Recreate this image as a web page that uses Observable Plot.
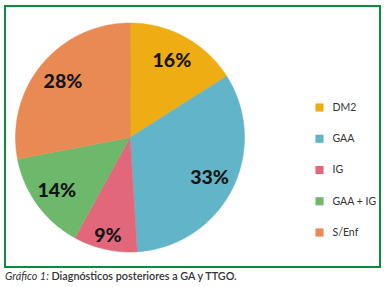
<!DOCTYPE html>
<html>
<head>
<meta charset="utf-8">
<script src="https://cdn.jsdelivr.net/npm/d3@7"></script>
<script src="https://cdn.jsdelivr.net/npm/@observablehq/plot@0.6"></script>
<style>
  html, body { margin: 0; padding: 0; background: #fff; }
  body { width: 389px; height: 287px; position: relative; overflow: hidden; }
  #frame { position: absolute; left: 4px; top: 5px; width: 373px; height: 259px; border: 2px solid #0f8a3c; }
  #frame svg { display: block; }
  #caption { position: absolute; left: 5px; top: 269px; font-family: Lato, "Open Sans", sans-serif; font-size: 10.8px; color: #333; white-space: nowrap; font-weight: 600; }
  #caption i { font-weight: 400; }
</style>
</head>
<body>
<div id="frame"></div>
<div id="caption"><i>Gráfico 1:</i> Diagnósticos posteriores a GA y TTGO.</div>
<script>
// Data
const categories = ["DM2", "GAA", "IG", "GAA + IG", "S/Enf"];
const percents = [16, 33, 9, 14, 28];
const colors = ["#efad14", "#62b4c8", "#e2677a", "#6db86b", "#e98a55"];

// Layout
const W = 373, H = 259;
const cx = 123.5, cy = 130, R = 114.5;
const labelR = [0.76, 0.78, 0.88, 0.79, 0.76];
const legendX = 313, legendY0 = 100, legendStep = 31.25;

const pie = d3.pie().sort(null).value(d => d.value)(
  categories.map((c, i) => ({name: c, value: percents[i]}))
);

const polys = [];
pie.forEach(s => {
  polys.push({name: s.data.name, x: cx, y: cy});
  const n = Math.max(2, Math.ceil((s.endAngle - s.startAngle) / (Math.PI / 180)));
  for (let k = 0; k <= n; k++) {
    const a = s.startAngle + (s.endAngle - s.startAngle) * k / n;
    polys.push({name: s.data.name, x: cx + R * Math.sin(a), y: cy - R * Math.cos(a)});
  }
});

const labels = pie.map((s, i) => {
  const a = (s.startAngle + s.endAngle) / 2;
  return {text: s.data.value + "%", x: cx + labelR[i] * R * Math.sin(a), y: cy - labelR[i] * R * Math.cos(a)};
});

const legend = categories.map((c, i) => ({name: c, x: legendX, y: legendY0 + i * legendStep}));

const chart = Plot.plot({
  width: W, height: H,
  margin: 0,
  x: {domain: [0, W], range: [0, W], axis: null},
  y: {domain: [0, H], range: [0, H], axis: null},
  color: {domain: categories, range: colors},
  style: {fontFamily: "Lato, 'Open Sans', sans-serif", background: "white"},
  marks: [
    Plot.line(polys, {x: "x", y: "y", z: "name", fill: "name", stroke: "name", strokeWidth: 0.5, curve: "linear-closed"}),
    Plot.text(labels, {x: "x", y: "y", text: "text", fontSize: 19.5, fontWeight: 900, fill: "#151515"}),
    Plot.dot(legend, {x: "x", y: "y", symbol: "square", r: 4.6, fill: "name", stroke: null}),
    Plot.text(legend, {x: d => d.x + 13, y: "y", text: "name", textAnchor: "start", fontSize: 10.5, fill: "#333"})
  ]
});
document.getElementById("frame").appendChild(chart);
</script>
</body>
</html>
